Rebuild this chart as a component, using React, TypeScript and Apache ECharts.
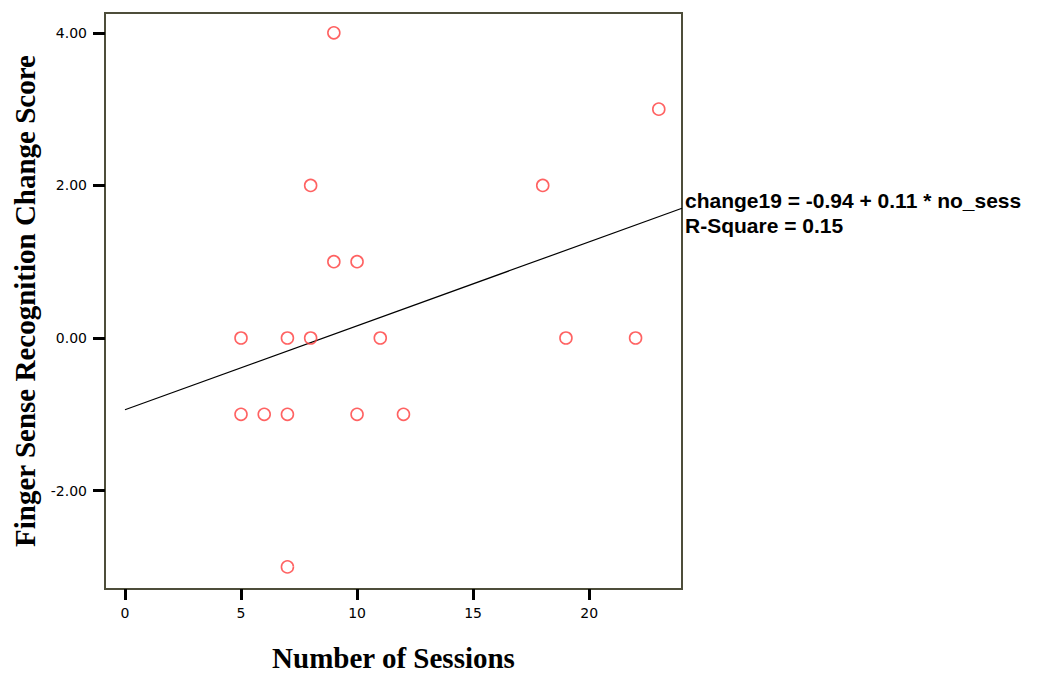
import React, { useEffect, useRef } from "react";
import * as echarts from "echarts";

const sessions = [9, 23, 8, 18, 9, 10, 5, 7, 8, 11, 19, 22, 5, 6, 7, 10, 12, 7];
const changeScores = [4, 3, 2, 2, 1, 1, 0, 0, 0, 0, 0, 0, -1, -1, -1, -1, -1, -3];
const xTicks = [0, 5, 10, 15, 20];
const yTicks = [-2, 0, 2, 4];
const intercept = -0.94;
const slope = 0.11;
const fitRange = [0, 24];
const equationText = "change19 = -0.94 + 0.11 * no_sess";
const rSquareText = "R-Square = 0.15";
const xTitle = "Number of Sessions";
const yTitle = "Finger Sense Recognition Change Score";

export default function App() {
  const ref = useRef<HTMLDivElement>(null);
  useEffect(() => {
    if (!ref.current) return;
    const chart = echarts.init(ref.current, null, { renderer: "svg" });
    const points = sessions.map((s, i) => [s, changeScores[i]]);
    const fitLine = fitRange.map((x) => [x, intercept + slope * x]);
    const tickLabel = {
      color: "#000",
      fontFamily: "DejaVu Sans",
      fontSize: 14,
    };
    const titleStyle = {
      fontFamily: "Liberation Serif",
      fontWeight: "bold",
      fontSize: 29,
      color: "#000",
    };
    chart.setOption({
      animation: false,
      backgroundColor: "#ffffff",
      grid: {
        left: 105,
        top: 13,
        width: 577,
        height: 576,
        show: true,
        borderColor: "#4d4d3a",
        borderWidth: 2,
        backgroundColor: "transparent",
        containLabel: false,
        outerBoundsMode: "none",
      },
      xAxis: {
        type: "value",
        min: -0.86,
        max: 24,
        splitLine: { show: false },
        axisLine: { show: false, onZero: false },
        axisTick: {
          show: true,
          customValues: xTicks,
          length: 11,
          lineStyle: { color: "#000", width: 3 },
        },
        axisLabel: {
          customValues: xTicks,
          margin: 17,
          ...tickLabel,
        },
        name: xTitle,
        nameLocation: "middle",
        nameGap: 54,
        nameTextStyle: titleStyle,
      },
      yAxis: {
        type: "value",
        min: -3.29,
        max: 4.26,
        splitLine: { show: false },
        axisLine: { show: false, onZero: false },
        axisTick: {
          show: true,
          customValues: yTicks,
          length: 12,
          lineStyle: { color: "#000", width: 3 },
        },
        axisLabel: {
          customValues: yTicks,
          formatter: (v: number) => v.toFixed(2),
          margin: 18,
          ...tickLabel,
        },
        name: yTitle,
        nameLocation: "middle",
        nameGap: 66,
        nameTextStyle: titleStyle,
      },
      series: [
        {
          type: "line",
          data: fitLine,
          symbol: "none",
          lineStyle: { color: "#000", width: 1.2 },
          z: 2,
        },
        {
          type: "scatter",
          data: points,
          symbol: "circle",
          symbolSize: 12,
          itemStyle: {
            color: "transparent",
            borderColor: "#ff3b3b",
            borderWidth: 1.6,
          },
          z: 3,
        },
      ],
      graphic: [
        {
          type: "text",
          x: 685,
          y: 200,
          style: {
            text: equationText,
            fontFamily: "Liberation Sans",
            fontWeight: "bold",
            fontSize: 21,
            fill: "#000",
            verticalAlign: "middle",
          },
        },
        {
          type: "text",
          x: 685,
          y: 225,
          style: {
            text: rSquareText,
            fontFamily: "Liberation Sans",
            fontWeight: "bold",
            fontSize: 21,
            fill: "#000",
            verticalAlign: "middle",
          },
        },
      ],
    });
    return () => chart.dispose();
  }, []);
  return (
    <div
      ref={ref}
      style={{ position: "fixed", left: 0, top: 0, width: 1046, height: 677 }}
    />
  );
}
